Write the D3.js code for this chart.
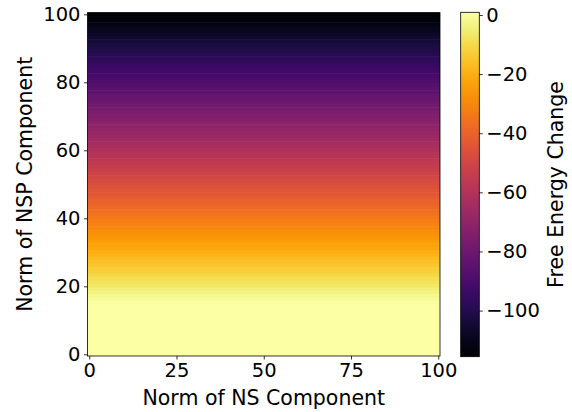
<!DOCTYPE html>
<html>
<head>
<meta charset="utf-8">
<script src="https://cdn.jsdelivr.net/npm/d3@7"></script>
<style>
  body { margin: 0; background: #fff; }
  text { font-family: "DejaVu Sans", sans-serif; fill: #000; }
</style>
</head>
<body>
<div id="chart"></div>
<script>
// NSP norm rows (0..100), value is the same along the NS axis
const nspNorm = [
  0, 1, 2, 3, 4, 5, 6, 7, 8, 9, 10, 11, 12, 13, 14, 15, 16, 17, 18, 19, 20,
  21, 22, 23, 24, 25, 26, 27, 28, 29, 30, 31, 32, 33, 34, 35, 36, 37, 38, 39, 40,
  41, 42, 43, 44, 45, 46, 47, 48, 49, 50, 51, 52, 53, 54, 55, 56, 57, 58, 59, 60,
  61, 62, 63, 64, 65, 66, 67, 68, 69, 70, 71, 72, 73, 74, 75, 76, 77, 78, 79, 80,
  81, 82, 83, 84, 85, 86, 87, 88, 89, 90, 91, 92, 93, 94, 95, 96, 97, 98, 99, 100
];
const freeEnergy = [
  0.9, 0.9, 0.9, 0.9, 0.9, 0.9, 0.9, 0.9, 0.9, 0.9, 0.9, 0.9, 0.9, 0.9, 0.6, 0.1, -0.8, -2.0, -3.4, -4.9, -6.4,
  -7.8, -9.1, -10.5, -11.9, -13.2, -14.6, -16.0, -17.3, -18.7, -20.1, -21.4, -22.8, -24.1, -25.5, -26.9, -28.2, -29.6, -31.0, -32.3, -33.7,
  -35.1, -36.4, -37.8, -39.2, -40.5, -41.9, -43.3, -44.6, -46.0, -47.3, -48.7, -50.1, -51.4, -52.8, -54.2, -55.5, -56.9, -58.3, -59.6, -61.0,
  -62.4, -63.7, -65.1, -66.5, -67.8, -69.2, -70.5, -71.9, -73.3, -74.6, -76.0, -77.4, -78.7, -80.1, -81.5, -82.8, -84.2, -85.6, -86.9, -88.3,
  -89.7, -91.0, -92.4, -93.7, -95.1, -96.5, -97.8, -99.2, -100.6, -101.9, -103.3, -104.7, -106.0, -107.4, -108.8, -110.1, -111.5, -112.9, -114.2, -115.6
];
const xTicks = [0, 25, 50, 75, 100];
const yTicks = [0, 20, 40, 60, 80, 100];
const cbTicks = [0, -20, -40, -60, -80, -100];

const W = 572, H = 412;
const plot = { left: 87.5, top: 12.6, width: 352.5, height: 343.4 };
const cb = { left: 460.7, top: 12.3, width: 18.6, height: 344.4 };
const tickFont = "19.5px", labelFont = "20.5px";

const svg = d3.select("#chart").append("svg")
  .attr("width", W).attr("height", H);

const x = d3.scaleLinear().domain([-0.5, 100.5])
  .range([plot.left, plot.left + plot.width]);
const y = d3.scaleLinear().domain([-0.5, 100.5])
  .range([plot.top + plot.height, plot.top]);

const vmin = d3.min(freeEnergy), vmax = d3.max(freeEnergy);
const color = d3.scaleSequential(d3.interpolateInferno).domain([vmin, vmax]);

const rows = nspNorm.map((n, i) => ({ n: n, v: freeEnergy[i] }));

// heatmap rows (drawn top first so each lower row slightly overlaps the one above)
svg.append("g").selectAll("rect")
  .data(rows.slice().reverse())
  .enter().append("rect")
  .attr("x", x(-0.5))
  .attr("width", x(100.5) - x(-0.5))
  .attr("y", d => y(d.n + 0.5) - (d.n < 100 ? 0.6 : 0))
  .attr("height", d => y(d.n - 0.5) - y(d.n + 0.5) + (d.n < 100 ? 0.6 : 0))
  .attr("fill", d => color(d.v));

const fmt = d => String(d).replace("-", "\u2212");

// axes
const xAxis = svg.append("g")
  .attr("transform", "translate(0," + (plot.top + plot.height) + ")")
  .call(d3.axisBottom(x).tickValues(xTicks).tickSize(3.5).tickPadding(3.5));
const yAxis = svg.append("g")
  .attr("transform", "translate(" + plot.left + ",0)")
  .call(d3.axisLeft(y).tickValues(yTicks).tickSize(3.5).tickPadding(3.5));

[xAxis, yAxis].forEach(g => {
  g.select(".domain").remove();
  g.selectAll("line").attr("stroke", "#000").attr("stroke-width", 0.8);
  g.selectAll("text").style("font-size", tickFont).attr("fill", "#000");
});

svg.append("rect")
  .attr("x", plot.left).attr("y", plot.top)
  .attr("width", plot.width).attr("height", plot.height)
  .attr("fill", "none").attr("stroke", "#000").attr("stroke-width", 0.8);

svg.append("text")
  .attr("x", plot.left + plot.width / 2).attr("y", 405)
  .attr("text-anchor", "middle").style("font-size", labelFont)
  .text("Norm of NS Component");

svg.append("text")
  .attr("transform", "translate(31.5," + (plot.top + plot.height / 2) + ") rotate(-90)")
  .attr("text-anchor", "middle").style("font-size", labelFont)
  .text("Norm of NSP Component");

// colorbar
const defs = svg.append("defs");
const grad = defs.append("linearGradient").attr("id", "cbgrad")
  .attr("x1", 0).attr("y1", 1).attr("x2", 0).attr("y2", 0);
d3.range(0, 1.0001, 0.05).forEach(t => {
  grad.append("stop").attr("offset", t).attr("stop-color", d3.interpolateInferno(t));
});

const cy = d3.scaleLinear().domain([vmin, vmax])
  .range([cb.top + cb.height, cb.top]);

svg.append("rect")
  .attr("x", cb.left).attr("y", cb.top)
  .attr("width", cb.width).attr("height", cb.height)
  .attr("fill", "url(#cbgrad)")
  .attr("stroke", "#000").attr("stroke-width", 0.8);

const cAxis = svg.append("g")
  .attr("transform", "translate(" + (cb.left + cb.width) + ",0)")
  .call(d3.axisRight(cy).tickValues(cbTicks).tickFormat(fmt).tickSize(3.5).tickPadding(3.5));
cAxis.select(".domain").remove();
cAxis.selectAll("line").attr("stroke", "#000").attr("stroke-width", 0.8);
cAxis.selectAll("text").style("font-size", tickFont).attr("fill", "#000");

svg.append("text")
  .attr("transform", "translate(563," + (cb.top + cb.height / 2) + ") rotate(-90)")
  .attr("text-anchor", "middle").style("font-size", labelFont)
  .text("Free Energy Change");
</script>
</body>
</html>
